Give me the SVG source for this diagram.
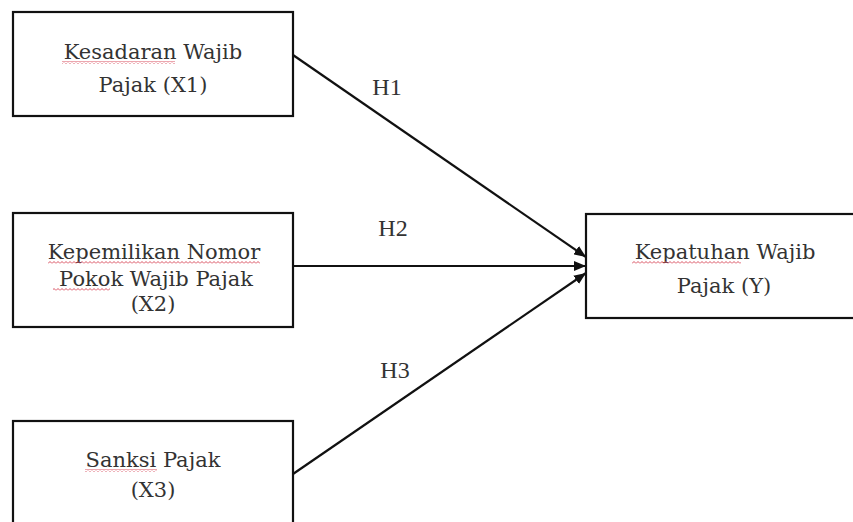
<svg xmlns="http://www.w3.org/2000/svg" width="853" height="522" viewBox="0 0 853 522">
<style>
.box{fill:#fff;stroke:#111;stroke-width:2.2}
.t{font-family:"DejaVu Serif","Liberation Serif",serif;font-size:21px;fill:#333;text-anchor:middle}
.h{font-family:"Liberation Serif","Times New Roman",serif;font-size:24px;fill:#333;text-anchor:middle}
.c{stroke:#111;stroke-width:2.2;fill:none;marker-end:url(#ah)}
.sq{fill:url(#wave)}
</style>
<defs>
<marker id="ah" viewBox="0 0 12 10" refX="12" refY="5" markerWidth="12" markerHeight="10" markerUnits="userSpaceOnUse" orient="auto">
<path d="M0,0 L12,5 L0,10 Z" fill="#111"/>
</marker>
<pattern id="wave" width="4" height="3" patternUnits="userSpaceOnUse">
<path d="M0,2.5 L2,0.5 L4,2.5" fill="none" stroke="#d9505f" stroke-width="1"/>
</pattern>
</defs>
<rect width="853" height="522" fill="#fff"/>
<g id="connectors">
<line class="c" x1="293" y1="55" x2="586" y2="257"/>
<line class="c" x1="293" y1="266" x2="586" y2="266"/>
<line class="c" x1="293" y1="474" x2="586" y2="273"/>
<text class="h" x="387" y="95">H1</text>
<text class="h" x="393" y="236">H2</text>
<text class="h" x="395" y="378">H3</text>
</g>
<g id="x1">
<rect class="box" x="13" y="12" width="280" height="104"/>
<text class="t" x="153" y="59">Kesadaran Wajib</text>
<text class="t" x="153" y="92">Pajak (X1)</text>
<rect class="sq" x="62" y="61" width="113" height="3"/>
</g>
<g id="x2">
<rect class="box" x="13" y="213" width="280" height="114"/>
<text class="t" x="154" y="259">Kepemilikan Nomor</text>
<text class="t" x="156" y="286">Pokok Wajib Pajak</text>
<text class="t" x="153" y="311">(X2)</text>
<rect class="sq" x="48" y="261" width="212" height="3"/>
<rect class="sq" x="53" y="288" width="57" height="3"/>
</g>
<g id="x3">
<rect class="box" x="13" y="421" width="280" height="110"/>
<text class="t" x="153" y="467">Sanksi Pajak</text>
<text class="t" x="153" y="497">(X3)</text>
<rect class="sq" x="85" y="469" width="72" height="3"/>
</g>
<g id="y">
<rect class="box" x="586" y="214" width="280" height="104"/>
<text class="t" x="725" y="259">Kepatuhan Wajib</text>
<text class="t" x="724" y="293">Pajak (Y)</text>
<rect class="sq" x="632" y="261" width="109" height="3"/>
</g>
</svg>
